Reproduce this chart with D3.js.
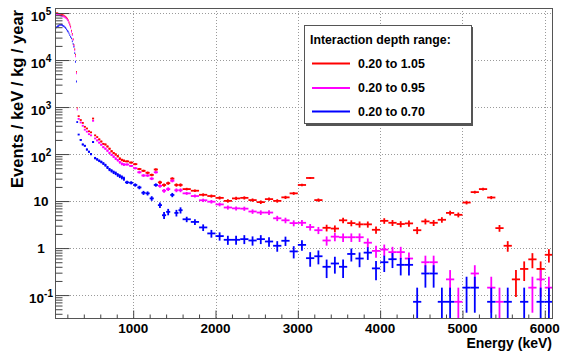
<!DOCTYPE html>
<html><head><meta charset="utf-8">
<script src="https://cdn.jsdelivr.net/npm/d3@7"></script>
<style>
body{margin:0;background:#fff}
svg{display:block}
text{font-family:"Liberation Sans",Arial,Helvetica,sans-serif;font-weight:bold;fill:#000}
</style></head><body>
<svg id="chart" width="561" height="352"></svg>
<script>
// ---- data (bin edges in keV, values in events / keV / kg / year) ----
const binEdges = [45,55,65,75,85,95,105,115,125,135,145,155,165,175,185,195,205,215,225,235,245,255,265,275,285,295,305,315,325,
  350,375,400,425,450,475,500,525,550,575,600,625,650,675,700,725,750,775,800,825,850,875,900,
  950,1000,1050,1100,1150,1200,1250,1300,1350,1400,1450,1500,1550,1600,
  1700,1800,1900,2000,2100,2200,2300,2400,2500,2600,2700,2800,2900,3000,3100,3200,3300,3400,3500,3600,3700,3800,3900,4000,
  4100,4200,4300,4400,4500,4600,4700,4800,4900,5000,5100,5200,5300,5400,5500,5600,5700,5800,5900,6000,6100];

const seriesNames = ["0.20 to 1.05","0.20 to 0.95","0.20 to 0.70"];
const seriesColors = ["#ff0000","#ff00ff","#0000ff"];

const depth105 = [1.02e5,1.01e5,1.0e5,9.9e4,9.7e4,9.6e4,9.5e4,9.3e4,9.2e4,9.1e4,9.0e4,8.8e4,8.6e4,8.3e4,8.0e4,7.6e4,7.1e4,6.4e4,5.8e4,5.2e4,4.2e4,3.6e4,2.8e4,2.1e4,1.7e4,1.3e4,5.6e3,960,
  640,530,460,380,350,305,290,570,250,230,205,185,165,160,145,130,115,105,98,90,80,75,72,
  70,66,61,48,44,40,36,47,25,22,24,30,22,22,
  18,16.6,13.6,12.8,11.7,10.1,11.4,11.7,10.5,9.5,11.0,10.1,12.0,14.6,22,31,10.5,2.7,2.6,3.9,3.4,3.2,3.2,2.45,3.8,
  3.45,3.25,3.35,2.4,3.7,3.45,4.0,5.6,5.1,9.3,15.5,18,11.9,2.66,1.12,0.216,0.36,0.576,0.36,0.72];

const depth095 = [9.2e4,9.3e4,9.3e4,9.2e4,9.1e4,9.0e4,8.9e4,8.8e4,8.7e4,8.6e4,8.5e4,8.3e4,8.1e4,7.9e4,7.6e4,7.2e4,6.8e4,6.1e4,5.5e4,4.9e4,4.0e4,3.4e4,2.7e4,2.0e4,1.6e4,1.2e4,5.2e3,880,
  560,470,400,330,300,265,250,510,215,195,175,158,140,130,118,106,96,88,80,74,67,62,60,
  60,56,50,41,35,35,30,41,21,16.6,18,27,17,17,
  14.6,12.8,10.4,9.7,8.5,7.3,7.0,6.9,6.0,5.7,5.7,4.3,3.9,3.4,3.45,2.8,2.4,1.45,1.75,1.7,1.7,1.7,1.3,0.87,0.93,
  0.82,0.82,0.6,0,0.5,0.5,0,0.216,0.072,0,0.288,0,0.144,0.072,0,0,0,0.144,0.216,0.144];

const depth070 = [4.7e4,4.8e4,5.0e4,5.2e4,5.3e4,5.5e4,5.6e4,5.6e4,5.6e4,5.5e4,5.3e4,5.2e4,5.0e4,4.8e4,4.5e4,4.2e4,4.0e4,3.7e4,3.4e4,3.1e4,2.9e4,2.5e4,2.2e4,1.9e4,1.4e4,9.2e3,3.5e3,480,
  260,200,160,150,125,112,100,180,82,77,72,68,63,58,52,47,44,41,39,36,34,32,30,
  25,24.5,22,19.5,15,14.6,11.4,22,8.2,5.0,5.9,13.5,5.6,6.4,
  4.1,3.6,2.75,2.05,1.8,1.5,1.5,1.55,1.45,1.55,1.38,1.12,1.43,0.85,1.17,0.61,0.67,0.40,0.47,0.40,0.75,0.6,0.8,0.37,0.5,
  0.58,0.44,0.44,0.072,0.288,0.288,0.072,0.072,0,0.144,0.144,0,0.072,0,0.072,0,0.072,0,0.072,0.072];

const countWeightPer100keV = 0.072; // value of one event in a 100 keV bin

const xTickValues = [1000,2000,3000,4000,5000,6000];
const yTickExponents = [-1,0,1,2,3,4,5];
const legendTitle = "Interaction depth range:";
const xTitle = "Energy (keV)";
const yTitle = "Events / keV / kg / year";

// ---- layout ----
const svg = d3.select("#chart");
const L = 55, R = 553, T = 8, B = 319;
const x = d3.scaleLinear().domain([50, 6100]).range([L, R]);
const y = d3.scaleLog().domain([0.031, 1.28e5]).range([B, T]);

svg.append("rect").attr("width",561).attr("height",352).attr("fill","#fff");

svg.append("defs").append("clipPath").attr("id","plotclip")
  .append("rect").attr("x",L).attr("y",T).attr("width",R-L).attr("height",B-T);

// grid
const grid = svg.append("g").attr("stroke","#9a9a9a").attr("stroke-width",1).attr("stroke-dasharray","1,2");
xTickValues.forEach(v => grid.append("line").attr("x1",Math.round(x(v))+0.5).attr("x2",Math.round(x(v))+0.5).attr("y1",T).attr("y2",B));
yTickExponents.forEach(e => grid.append("line").attr("y1",Math.round(y(Math.pow(10,e)))+0.5).attr("y2",Math.round(y(Math.pow(10,e)))+0.5).attr("x1",L).attr("x2",R));

// data
const bins = d3.range(binEdges.length-1).map(i => ({lo:binEdges[i], hi:binEdges[i+1], c:(binEdges[i]+binEdges[i+1])/2}));
const allSeries = [depth105, depth095, depth070];
const dataG = svg.append("g").attr("clip-path","url(#plotclip)");
allSeries.forEach((vals, si) => {
  const g = dataG.append("g").attr("stroke", seriesColors[si]).attr("stroke-width",1.8);
  vals.forEach((v, i) => {
    if (!(v > 0)) return;
    const b = bins[i];
    const unit = countWeightPer100keV * 100 / (b.hi - b.lo);
    const err = Math.sqrt(v * unit);
    const yv = y(v);
    g.append("line").attr("x1",x(b.lo)).attr("x2",x(b.hi)).attr("y1",yv).attr("y2",yv);
    const lo = v - err > 0 ? y(v - err) : B + 2;
    const hi = y(v + err);
    if (lo - hi > 1.5)
      g.append("line").attr("x1",x(b.c)).attr("x2",x(b.c)).attr("y1",hi).attr("y2",lo);
  });
});

// frame
svg.append("rect").attr("x",L+0.5).attr("y",T+0.5).attr("width",R-L-1).attr("height",B-T-1)
  .attr("fill","none").attr("stroke","#555").attr("stroke-width",1);

// y axis ticks (inside)
const yAxis = svg.append("g").attr("transform",`translate(${L+0.5},0)`);
const yMinor = [];
for (let e = -2; e <= 5; e++) for (let k = 2; k <= 9; k++) { const v = k*Math.pow(10,e); if (v >= 0.031 && v <= 1.28e5) yMinor.push(v); }
yAxis.call(d3.axisRight(y).tickValues(yMinor).tickSize(7).tickFormat(""));
yAxis.call(g => g.select(".domain").remove());
const yAxisMaj = svg.append("g").attr("transform",`translate(${L+0.5},0)`);
yAxisMaj.call(d3.axisRight(y).tickValues(yTickExponents.map(e=>Math.pow(10,e))).tickSize(14).tickFormat(""));
yAxisMaj.call(g => g.select(".domain").remove());
svg.selectAll(".tick line").attr("stroke","#444");

// x axis ticks (inside)
const xMinor = [];
for (let v = 200; v <= 6100; v += 200) if (v % 1000 !== 0) xMinor.push(v);
const xAxis = svg.append("g").attr("transform",`translate(0,${B-0.5})`);
xAxis.call(d3.axisTop(x).tickValues(xMinor).tickSize(4).tickFormat(""));
xAxis.call(g => g.select(".domain").remove());
const xAxisMaj = svg.append("g").attr("transform",`translate(0,${B-0.5})`);
xAxisMaj.call(d3.axisTop(x).tickValues(xTickValues).tickSize(8).tickFormat(""));
xAxisMaj.call(g => g.select(".domain").remove());
svg.selectAll(".tick line").attr("stroke","#444");
svg.selectAll(".tick text").remove();

// x labels
xTickValues.forEach(v => svg.append("text").attr("x",x(v)).attr("y",333).attr("text-anchor","middle")
  .attr("font-size","13.5px").text(String(v)));
svg.append("text").attr("x",552).attr("y",348).attr("text-anchor","end").attr("font-size","14px").text(xTitle);

// y labels
yTickExponents.forEach(e => {
  const yy = y(Math.pow(10,e));
  const t = svg.append("text").attr("x",41).attr("text-anchor","middle").attr("font-size","13.5px");
  if (e === 0) { t.attr("y",yy+4.8).text("1"); }
  else if (e === 1) { t.attr("y",yy+4.8).text("10"); }
  else {
    t.attr("y",yy+7.5);
    t.append("tspan").text("10");
    t.append("tspan").attr("dy",-6).attr("font-size","10px").text(String(e));
  }
});
svg.append("text").attr("transform","translate(22.5,10) rotate(-90)").attr("text-anchor","end")
  .attr("font-size","16.5px").text(yTitle);

// legend
const lg = svg.append("g");
lg.append("rect").attr("x",306).attr("y",27).attr("width",167).attr("height",99).attr("fill","#555");
lg.append("rect").attr("x",304.5).attr("y",25.5).attr("width",167).attr("height",98).attr("fill","#fff").attr("stroke","#555");
lg.append("text").attr("x",310).attr("y",43.5).attr("font-size","12.3px").text(legendTitle);
const legY = [63.5, 88, 111.5];
seriesNames.forEach((n,i) => {
  lg.append("line").attr("x1",312).attr("x2",350).attr("y1",legY[i]).attr("y2",legY[i])
    .attr("stroke",seriesColors[i]).attr("stroke-width",1.8);
  lg.append("text").attr("x",358).attr("y",legY[i]+4.3).attr("font-size","12.4px").text(n);
});
</script></body></html>
